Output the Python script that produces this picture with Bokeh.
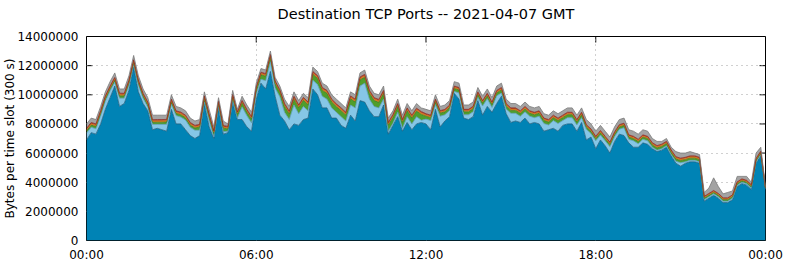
import numpy as np
from bokeh.plotting import figure
from bokeh.models import FixedTicker, LinearAxis, Range1d, NumeralTickFormatter
from bokeh.embed import file_html
from bokeh.resources import INLINE

# time of each 10-minute sample, minutes after midnight (2021-04-07 GMT)
slot_minutes = list(range(0, 1441, 10))

x_tick_hours = [0, 6, 12, 18, 24]
x_tick_labels = ["00:00", "06:00", "12:00", "18:00", "00:00"]
y_tick_values = [0, 2000000, 4000000, 6000000, 8000000, 10000000, 12000000, 14000000]

# upper envelope of the stack (millions of bytes per slot)
total_top = [
    8.0, 8.4, 8.3, 9.2, 10.2, 10.9,
    11.5, 10.4, 10.4, 11.3, 12.7, 11.3,
    10.4, 9.8, 8.6, 8.6, 8.6, 8.6,
    10.0, 9.2, 9.1, 8.9, 8.4, 8.2,
    8.3, 10.2, 9.0, 7.8, 9.8, 8.2,
    8.0, 10.3, 9.0, 9.9, 9.3, 8.8,
    10.8, 11.8, 11.7, 13.0, 11.2, 10.6,
    9.7, 9.2, 10.2, 9.6, 10.1, 9.8,
    11.9, 11.6, 10.8, 10.6, 10.0, 9.7,
    9.4, 9.1, 10.2, 10.0, 11.5, 11.7,
    10.6, 10.1, 10.0, 10.6, 8.4, 8.9,
    9.7, 8.6, 9.4, 8.9, 9.4, 9.1,
    9.0, 8.9, 10.0, 9.2, 9.3, 9.6,
    10.9, 10.8, 9.3, 9.3, 9.5, 10.5,
    9.9, 10.4, 9.8, 10.6, 10.8, 9.7,
    9.4, 9.4, 9.2, 9.5, 9.2, 9.1,
    9.2, 8.7, 8.6, 8.9, 8.7, 8.9,
    9.1, 9.1, 8.6, 9.1, 8.3, 8.0,
    7.5, 7.9, 7.5, 7.1, 7.8, 8.3,
    8.4, 7.6, 7.5, 7.3, 7.6, 7.5,
    7.0, 6.8, 6.8, 7.0, 6.4, 6.1,
    6.0, 6.0, 6.1, 6.0, 5.9, 3.3,
    3.6, 4.3, 3.7, 3.2, 3.3, 3.4,
    4.4, 4.4, 4.4, 4.0, 6.0, 6.4,
    3.7,
]

# main port (dark blue)
port_main = [
    6.9, 7.4, 7.3, 8.0, 9.0, 9.8,
    10.6, 9.2, 9.4, 10.3, 11.9, 10.2,
    9.4, 8.9, 7.6, 7.7, 7.6, 7.5,
    9.0, 8.0, 8.0, 7.6, 7.2, 7.0,
    7.2, 9.4, 7.8, 7.0, 9.1, 7.3,
    7.4, 9.5, 8.3, 8.3, 7.8, 7.5,
    9.7, 10.8, 10.4, 11.6, 9.9, 8.6,
    8.2, 7.6, 8.0, 7.9, 8.3, 8.4,
    10.4, 10.0, 9.1, 9.1, 8.4, 8.4,
    7.9, 7.7, 8.6, 8.2, 9.6, 9.5,
    8.9, 8.5, 8.5, 9.3, 7.3, 7.9,
    8.5, 7.5, 8.1, 7.6, 8.0, 8.1,
    8.0, 7.6, 9.0, 7.8, 8.2, 8.5,
    10.1, 9.7, 8.4, 8.3, 8.5, 9.6,
    8.6, 9.2, 8.8, 9.4, 9.9, 8.7,
    8.1, 8.2, 8.1, 8.4, 8.0, 8.1,
    8.0, 7.5, 7.6, 7.7, 7.5, 7.9,
    8.0, 8.0, 7.5, 8.1, 6.9, 7.1,
    6.3, 6.9, 6.5, 6.0, 6.8, 7.3,
    7.2, 6.7, 6.4, 6.4, 6.7, 6.6,
    6.3, 6.1, 6.2, 6.4, 5.8, 5.3,
    5.1, 5.3, 5.4, 5.4, 5.3, 2.7,
    2.9, 3.1, 2.9, 2.6, 2.6, 2.8,
    3.7, 3.9, 3.8, 3.5, 5.3, 5.8,
    3.5,
]

# second port (light blue)
port_light = [
    .47, .37, .37, .57, .57, .47,
    .27, .57, .37, .37, .17, .47,
    .37, .27, .37, .27, .37, .47,
    .37, .57, .47, .67, .57, .57,
    .37, .10, .47, .10, .10, .17,
    .10, .10, .10, .87, .77, .57,
    .37, .27, .57, .67, .57, 1.27,
    .60, .70, 1.30, .80, .90, .50,
    .60, .70, .80, .60, .70, .40,
    .60, .50, .70, .90, 1.00, 1.30,
    .80, .70, .60, .40, .20, .15,
    .30, .20, .40, .40, .50, .15,
    .33, .63, .33, .73, .43, .43,
    .13, .43, .23, .33, .33, .23,
    .63, .53, .33, .53, .23, .33,
    .63, .53, .43, .43, .53, .33,
    .53, .53, .33, .53, .53, .33,
    .43, .43, .43, .33, .74, .24,
    .54, .34, .34, .44, .34, .34,
    .54, .24, .44, .24, .24, .24,
    .10, .10, .10, .10, .10, .14,
    .24, .10, .10, .10, .10, .10,
    .10, .10, .10, .10, .10, .10,
    .10, .10, .10, .10, .10, .10,
    .05,
]

# third port (green)
port_green = [
    .15, .15, .15, .16, .17, .15,
    .14, .16, .15, .15, .15, .16,
    .15, .15, .14, .15, .15, .16,
    .15, .15, .16, .15, .15, .15,
    .22, .25, .24, .25, .20, .24,
    .15, .25, .25, .26, .25, .25,
    .28, .30, .30, .32, .30, .30,
    .40, .38, .40, .40, .42, .40,
    .40, .42, .40, .40, .40, .38,
    .40, .40, .42, .40, .42, .40,
    .40, .40, .38, .40, .40, .40,
    .40, .40, .40, .40, .38, .40,
    .20, .20, .20, .21, .20, .20,
    .20, .20, .20, .20, .21, .20,
    .20, .20, .20, .20, .20, .20,
    .20, .20, .20, .20, .20, .20,
    .20, .20, .20, .20, .20, .20,
    .20, .20, .20, .20, .15, .15,
    .15, .15, .15, .15, .15, .15,
    .15, .15, .15, .15, .15, .15,
    .15, .15, .15, .15, .15, .15,
    .15, .15, .15, .15, .15, .10,
    .10, .10, .10, .10, .10, .10,
    .10, .10, .10, .10, .10, .10,
    .03,
]

# fourth port (orange)
port_orange = [
    .10, .10, .10, .10, .10, .10,
    .10, .10, .10, .10, .10, .10,
    .10, .10, .10, .10, .10, .10,
    .10, .10, .10, .10, .10, .10,
    .10, .10, .10, .10, .10, .10,
    .10, .10, .10, .10, .10, .10,
    .10, .10, .10, .10, .10, .10,
    .12, .12, .12, .12, .12, .12,
    .12, .12, .12, .12, .12, .12,
    .12, .12, .12, .12, .12, .12,
    .12, .12, .12, .12, .12, .12,
    .12, .12, .12, .12, .12, .12,
    .10, .10, .10, .10, .10, .10,
    .10, .10, .10, .10, .10, .10,
    .10, .10, .10, .10, .10, .10,
    .10, .10, .10, .10, .10, .10,
    .10, .10, .10, .10, .10, .10,
    .10, .10, .10, .10, .10, .10,
    .10, .10, .10, .10, .10, .10,
    .10, .10, .10, .10, .10, .10,
    .10, .10, .10, .10, .10, .10,
    .10, .10, .10, .10, .10, .08,
    .08, .08, .08, .08, .08, .08,
    .08, .08, .08, .08, .08, .08,
    .03,
]

# fifth port (dark red)
port_red = [
    .08, .08, .08, .08, .08, .08,
    .08, .08, .08, .08, .08, .08,
    .08, .08, .08, .08, .08, .08,
    .08, .08, .08, .08, .08, .08,
    .08, .08, .08, .08, .08, .08,
    .08, .08, .08, .08, .08, .08,
    .08, .08, .08, .08, .08, .08,
    .08, .08, .08, .08, .08, .08,
    .08, .08, .08, .08, .08, .08,
    .08, .08, .08, .08, .08, .08,
    .08, .08, .08, .08, .08, .08,
    .08, .08, .08, .08, .08, .08,
    .07, .07, .07, .07, .07, .07,
    .07, .07, .07, .07, .07, .07,
    .07, .07, .07, .07, .07, .07,
    .07, .07, .07, .07, .07, .07,
    .07, .07, .07, .07, .07, .07,
    .07, .07, .07, .07, .06, .06,
    .06, .06, .06, .06, .06, .06,
    .06, .06, .06, .06, .06, .06,
    .06, .06, .06, .06, .06, .06,
    .06, .06, .06, .06, .06, .05,
    .05, .05, .05, .05, .05, .05,
    .05, .05, .05, .05, .05, .05,
    .02,
]

M = 1e6
x = np.array(slot_minutes) / 60.0
tot = np.array(total_top) * M
layers_raw = [np.array(v) * M for v in (port_main, port_light, port_green, port_orange, port_red)]
rest = np.clip(tot - sum(layers_raw), 0.02 * M, None)  # all other ports (grey)
layers_raw.append(rest)

fills = ["#0083b5", "#86c6e6", "#4f9e2c", "#e8821e", "#b8322a", "#a3a3a3"]
edges = ["#1d5f80", "#5c9cbc", "#3b7a22", "#c0651a", "#8a2a22", "#7a7a7a"]

p = figure(width=785, height=264, output_backend="svg", toolbar_location=None,
           x_range=Range1d(0, 24), y_range=Range1d(0, 14000000),
           x_axis_location=None, y_axis_location=None,
           min_border_left=86, min_border_right=20, min_border_top=36, min_border_bottom=24)

xt = FixedTicker(ticks=x_tick_hours)
yt = FixedTicker(ticks=y_tick_values)

p.xgrid.ticker = xt
p.ygrid.ticker = yt
for g in (p.xgrid, p.ygrid):
    g.grid_line_color = "#a0a0a0"
    g.grid_line_dash = "1 4"
    g.grid_line_width = 1

# inward tick marks (under the data, like the reference)
yt_arr = np.array(y_tick_values, dtype=float)
xt_arr = np.array(x_tick_hours, dtype=float)
p.ray(x=np.zeros_like(yt_arr), y=yt_arr, length=6, length_units="screen", angle=0,
      line_color="black", line_width=1, level="underlay")
p.ray(x=np.full_like(yt_arr, 24.0), y=yt_arr, length=6, length_units="screen", angle=np.pi,
      line_color="black", line_width=1, level="underlay")
p.ray(x=xt_arr, y=np.full_like(xt_arr, 14000000.0), length=6, length_units="screen", angle=-np.pi / 2,
      line_color="black", line_width=1, level="underlay")
p.ray(x=xt_arr, y=np.zeros_like(xt_arr), length=6, length_units="screen", angle=np.pi / 2,
      line_color="black", line_width=1, level="underlay")

base = np.zeros_like(tot)
tops = []
for vals, fc in zip(layers_raw, fills):
    top = base + vals
    p.varea(x=x, y1=base, y2=top, fill_color=fc, fill_alpha=1.0)
    tops.append(top)
    base = top
for top, ec in zip(tops, edges):
    p.line(x=x, y=top, line_color=ec, line_width=0.8)

font = "DejaVu Sans"
fs = "12px"

def style(ax):
    ax.axis_line_color = None
    ax.major_tick_line_color = None
    ax.minor_tick_line_color = None
    ax.major_tick_in = 0
    ax.major_tick_out = 0
    ax.major_label_text_font = font
    ax.major_label_text_font_size = fs
    ax.major_label_text_color = "black"

bottom = LinearAxis(ticker=xt)
style(bottom)
bottom.major_label_overrides = {h: lab for h, lab in zip(x_tick_hours, x_tick_labels)}
bottom.major_label_standoff = 7
p.add_layout(bottom, "below")

# title carried by a tick-less top axis so it can sit high above the frame
top_ax = LinearAxis(ticker=FixedTicker(ticks=[]))
style(top_ax)
top_ax.major_label_standoff = 0
top_ax.axis_label = "Destination TCP Ports -- 2021-04-07 GMT"
top_ax.axis_label_text_font = font
top_ax.axis_label_text_font_size = "14.5px"
top_ax.axis_label_text_font_style = "normal"
top_ax.axis_label_text_color = "black"
top_ax.axis_label_standoff = 15
p.add_layout(top_ax, "above")

left = LinearAxis(ticker=yt, formatter=NumeralTickFormatter(format="0"))
style(left)
left.major_label_standoff = 8
left.axis_label = "Bytes per time slot (300 s)"
left.axis_label_text_font = font
left.axis_label_text_font_size = fs
left.axis_label_text_font_style = "normal"
left.axis_label_text_color = "black"
left.axis_label_standoff = -3
p.add_layout(left, "left")

p.outline_line_color = "black"
p.outline_line_width = 1
p.outline_line_alpha = 1
p.background_fill_color = "white"
p.border_fill_color = "white"

open("out.html", "w").write(file_html(p, INLINE))
